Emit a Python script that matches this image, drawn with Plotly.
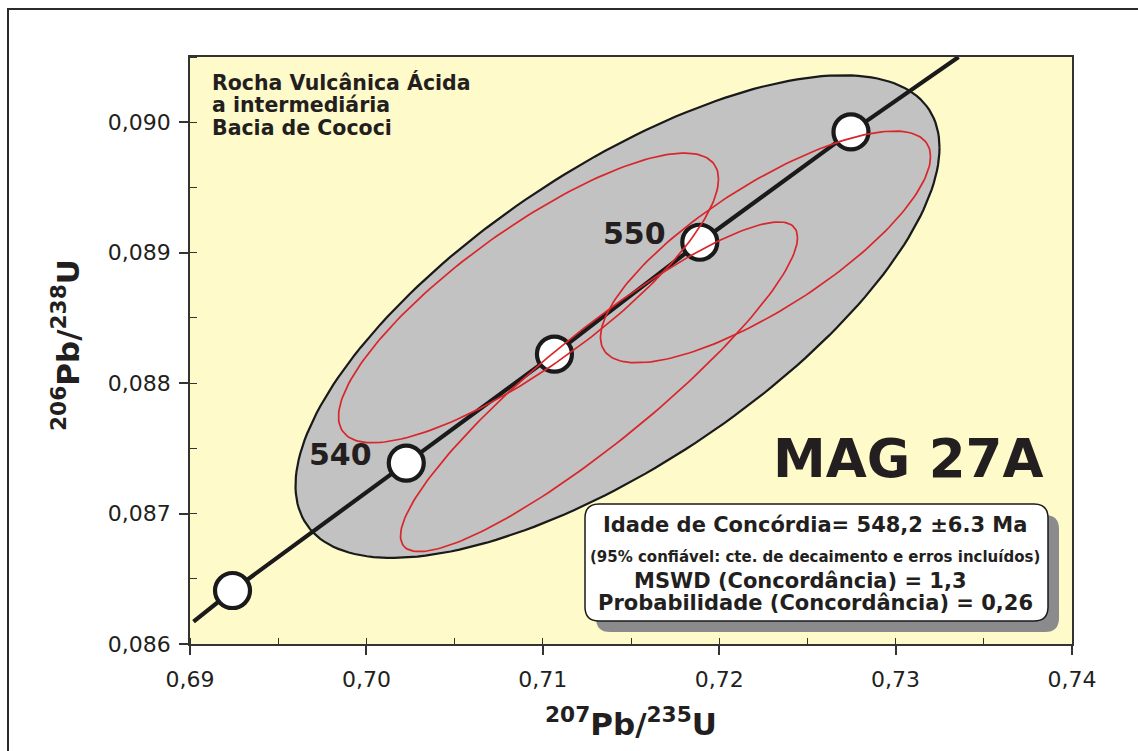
import numpy as np
import plotly.graph_objects as go

# ---------------- data ----------------
# Concordia curve vertices (207Pb/235U , 206Pb/238U)
conc_x = [0.6902, 0.69241, 0.70226, 0.71066, 0.71890, 0.72747, 0.73357]
conc_y = [0.086172, 0.086410, 0.087387, 0.088222, 0.089080, 0.089926, 0.0905]

# Age marks on the concordia (Ma)
age_ma = [535, 540, 545, 550, 555]
age_x = [0.69241, 0.70226, 0.71066, 0.71890, 0.72747]
age_y = [0.086410, 0.087387, 0.088222, 0.089080, 0.089926]
age_labels = ["", "540", "", "550", ""]

# Concordia-age ellipse (grey): centre, half-widths, error correlation
age_ell_x, age_ell_y = 0.714235, 0.08851
age_ell_sx, age_ell_sy, age_ell_rho = 0.018254, 0.00185, 0.70

# Individual analyses (red ellipses)
spot_x = [0.70919, 0.722625, 0.713186]
spot_y = [0.088653, 0.089044, 0.087972]
spot_sx = [0.010771, 0.009354, 0.011253]
spot_sy = [0.0011103, 0.000888, 0.0012634]
spot_rho = [0.82, 0.78, 0.905]

x_ticks = [0.69, 0.70, 0.71, 0.72, 0.73, 0.74]
y_ticks = [0.086, 0.087, 0.088, 0.089, 0.090]

sample_name = "MAG 27A"
header_lines = ["Rocha Vulcânica Ácida", "a intermediária", "Bacia de Cococi"]
result_lines = ["Idade de Concórdia= 548,2 ±6.3 Ma",
                "(95% confiável: cte. de decaimento e erros incluídos)",
                "MSWD (Concordância) = 1,3",
                "Probabilidade (Concordância) = 0,26"]

# ---------------- layout helpers ----------------
W, H = 1138, 751
ML, MR, MT, MB = 190, 66, 57, 107
PW, PH = W - ML - MR, H - MT - MB
FONT = "DejaVu Sans, Liberation Sans, Arial, sans-serif"
INK = "#231f20"


def px(xp):
    return (xp - ML) / PW


def py(yp):
    return (H - MB - yp) / PH


def ellipse(xc, yc, sx, sy, rho, n=200):
    t = np.linspace(0, 2 * np.pi, n)
    x = xc + sx * np.cos(t)
    y = yc + sy * (rho * np.cos(t) + np.sqrt(1 - rho ** 2) * np.sin(t))
    return x, y


def rrect_path(l, t, r, b, rad):
    x0, x1 = px(l), px(r)
    y0, y1 = py(b), py(t)
    rx, ry = rad / PW, rad / PH
    return (f"M {x0+rx},{y1} L {x1-rx},{y1} Q {x1},{y1} {x1},{y1-ry} "
            f"L {x1},{y0+ry} Q {x1},{y0} {x1-rx},{y0} "
            f"L {x0+rx},{y0} Q {x0},{y0} {x0},{y0+ry} "
            f"L {x0},{y1-ry} Q {x0},{y1} {x0+rx},{y1} Z")


fig = go.Figure()

# grey concordia-age ellipse
ex, ey = ellipse(age_ell_x, age_ell_y, age_ell_sx, age_ell_sy, age_ell_rho)
fig.add_trace(go.Scatter(x=ex, y=ey, mode="lines", fill="toself",
                         fillcolor="#c2c2c2",
                         line=dict(color="#1a1a1a", width=2.2),
                         hoverinfo="skip", showlegend=False))

# concordia
fig.add_trace(go.Scatter(x=conc_x, y=conc_y, mode="lines",
                         line=dict(color="#1a1a1a", width=4.2),
                         hoverinfo="skip", showlegend=False))

# age markers
fig.add_trace(go.Scatter(x=age_x, y=age_y, mode="markers",
                         marker=dict(size=35, color="white",
                                     line=dict(color="#1a1a1a", width=4.2)),
                         hoverinfo="skip", showlegend=False))

# red analysis ellipses
for xc, yc, sx, sy, r in zip(spot_x, spot_y, spot_sx, spot_sy, spot_rho):
    rx, ry = ellipse(xc, yc, sx, sy, r)
    fig.add_trace(go.Scatter(x=rx, y=ry, mode="lines",
                             line=dict(color="#d8262b", width=1.7),
                             hoverinfo="skip", showlegend=False))

annotations = []
for ax_, ay_, lab in zip(age_x, age_y, age_labels):
    if lab:
        annotations.append(dict(x=ax_, y=ay_, xref="x", yref="y", text=f"<b>{lab}</b>",
                                showarrow=False, xanchor="right", yanchor="middle",
                                xshift=-32, yshift=9,
                                font=dict(family=FONT, size=30, color=INK)))

# header text lines
for yc, line in zip([82, 105, 127.5], header_lines):
    annotations.append(dict(x=px(210), y=py(yc), xref="paper", yref="paper",
                            text=f"<b>{line}</b>", showarrow=False,
                            xanchor="left", yanchor="middle",
                            font=dict(family=FONT, size=20.5, color=INK)))

annotations.append(dict(x=px(908), y=py(458), xref="paper", yref="paper",
                        text=f"<b>{sample_name}</b>", showarrow=False,
                        xanchor="center", yanchor="middle",
                        font=dict(family=FONT, size=53, color=INK)))

for xc, yc, line, fs in zip([815, 815, 800, 815], [524.5, 557, 580.5, 603],
                            result_lines, [21, 15, 21, 21]):
    annotations.append(dict(x=px(xc), y=py(yc), xref="paper", yref="paper",
                            text=f"<b>{line}</b>", showarrow=False,
                            xanchor="center", yanchor="middle", borderpad=0,
                            font=dict(family=FONT, size=fs, color=INK)))

# axis titles
annotations.append(dict(x=0.5, y=py(722), xref="paper", yref="paper",
                        text="<b><sup>207</sup>Pb/<sup>235</sup>U</b>", showarrow=False,
                        xanchor="center", yanchor="middle",
                        font=dict(family=FONT, size=31, color=INK)))
annotations.append(dict(x=px(66), y=py(345), xref="paper", yref="paper",
                        text="<b><sup>206</sup>Pb/<sup>238</sup>U</b>", showarrow=False,
                        textangle=-90, xanchor="center", yanchor="middle",
                        font=dict(family=FONT, size=31, color=INK)))

shapes = [
    # outer frame
    dict(type="rect", xref="paper", yref="paper", x0=px(8), x1=px(1300),
         y0=py(900), y1=py(9), line=dict(color="#2b2b2b", width=2)),
    # result box shadow + box
    dict(type="path", xref="paper", yref="paper", path=rrect_path(596, 515, 1059, 632, 14),
         fillcolor="#8b8b8d", line=dict(width=0)),
    dict(type="path", xref="paper", yref="paper", path=rrect_path(585, 504, 1048, 621, 14),
         fillcolor="white", line=dict(color="#1a1a1a", width=1.5)),
]

axis_common = dict(showgrid=False, zeroline=False, showline=True, mirror=True,
                   linecolor="#333333", linewidth=1.5,
                   tickcolor="#333333", tickwidth=1.5, ticks="outside", ticklen=9,
                   tickfont=dict(family=FONT, size=22, color=INK))

fig.update_layout(
    width=W, height=H,
    margin=dict(l=ML, r=MR, t=MT, b=MB),
    paper_bgcolor="white", plot_bgcolor="#fffac9",
    separators=",.",
    showlegend=False,
    xaxis=dict(range=[0.69, 0.74], tickvals=x_ticks, tickformat=".2f",
               ticklabelstandoff=6,
               minor=dict(dtick=0.005, tick0=0.69, ticks="inside", ticklen=6,
                          tickwidth=1.3, tickcolor="#333333"),
               **axis_common),
    yaxis=dict(range=[0.086, 0.0905], tickvals=y_ticks, tickformat=".3f",
               ticklabelstandoff=4,
               minor=dict(dtick=0.0005, tick0=0.086, ticks="inside", ticklen=7,
                          tickwidth=1.3, tickcolor="#333333"),
               **axis_common),
    xaxis2=dict(range=[0.69, 0.74], overlaying="x", anchor="y", side="bottom",
                tickvals=x_ticks, ticks="inside", ticklen=8, tickwidth=1.5,
                tickcolor="#333333", showticklabels=False, showgrid=False,
                zeroline=False, showline=False),
    yaxis2=dict(range=[0.086, 0.0905], overlaying="y", anchor="x", side="left",
                tickvals=y_ticks, ticks="inside", ticklen=8, tickwidth=1.5,
                tickcolor="#333333", showticklabels=False, showgrid=False,
                zeroline=False, showline=False),
    annotations=annotations,
    shapes=shapes,
)

fig.write_html("out.html")
